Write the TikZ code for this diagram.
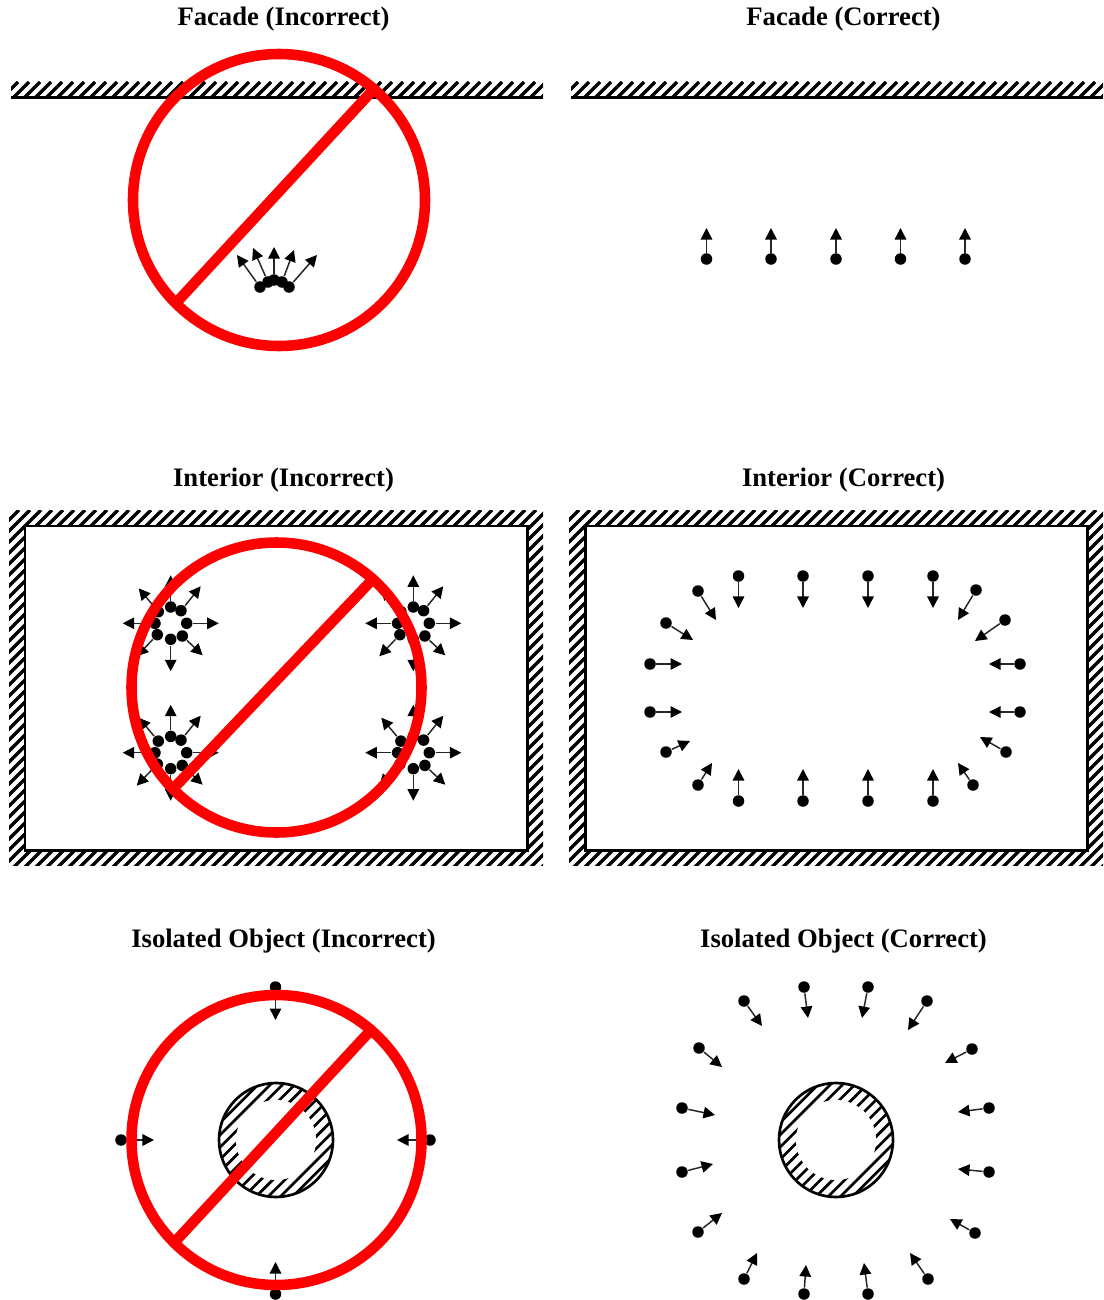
\documentclass[tikz,border=0pt]{standalone}
\usepackage{fontspec}
\setmainfont{Liberation Serif}
\usetikzlibrary{arrows.meta}

\tikzset{
  heading/.style={font=\bfseries\fontsize{7.58}{9}\selectfont,inner sep=0pt},
  hatch/.style={line width=0.92pt,black},
  thinhatch/.style={line width=0.76pt,black},
  wall/.style={line width=0.85pt,black},
  probe/.style={circle,fill=black,inner sep=0pt,minimum size=0.115cm},
  pointer/.style={line width=0.42pt,black!85,-{Triangle[length=0.115cm,width=0.115cm,black]}},
  ban/.style={line width=3pt,red,line cap=butt}
}

\begin{document}
\begin{tikzpicture}[x=0.01cm,y=-0.01cm]
\useasboundingbox (0,0) rectangle (1103,1300);
% ---------- headings ----------
\node[heading] (facwrong) at (283.5,19) {Facade (Incorrect)};
\node[heading] (facright) at (843.5,19) {Facade (Correct)};
\node[heading] (intwrong) at (283.5,480) {Interior (Incorrect)};
\node[heading] (intright) at (843.5,480) {Interior (Correct)};
\node[heading] (isowrong) at (283.5,941) {Isolated Object (Incorrect)};
\node[heading] (isoright) at (843.5,941) {Isolated Object (Correct)};
% ---------- facade walls, interior rooms, isolated objects ----------
\foreach \sx in {0,560} {
\begin{scope}[shift={(\sx,0)}]
% strip along the top
\begin{scope}
  \clip (11,82) rectangle (543,97);
  \foreach \x in {0,11,...,550}
    \draw[hatch] (\x,100) -- (\x+18,82);
\end{scope}
\draw[wall] (11,97.5) -- (543,97.5);
% room with hatched surround
\begin{scope}
  \clip (9,510) rectangle (543,865);
  \foreach \x in {-350,-339,...,550}
    \draw[hatch] (\x,868) -- (\x+358,510);
\end{scope}
\draw[wall,fill=white] (25,526) rectangle (527,850);
% hatched disc
\begin{scope}
  \clip (276,1140) circle (57);
  \foreach \x in {130.6,142.8,...,301.4}
    \draw[thinhatch] (\x,1200) -- (\x+120,1080);
  \fill[white] (276,1140) circle (40);
\end{scope}
\draw[thinhatch] (276,1140) circle (57);
\end{scope}
}
% ---------- facade (incorrect) ----------
\foreach \xa/\ya/\xb/\yb [count=\i] in {260/287/237/255,268/282/253/248,274/280/274/247,282/282/294/250,289/287/317/255} {
  \node[probe] (fa\i) at (\xa,\ya) {};
  \coordinate (fb\i) at (\xb,\yb);
  \draw[pointer] (fa\i) -- (fb\i);
}
\draw[ban] (279,200) circle (146);
\draw[ban] (176,303) -- (373,90);
% ---------- facade (correct) ----------
\foreach \xa [count=\i] in {706.5,771,836,900.5,965} {
  \node[probe] (ga\i) at (\xa,259) {};
  \coordinate (gb\i) at (\xa,228);
  \draw[pointer] (ga\i) -- (gb\i);
}
% ---------- interior (incorrect) ----------
\foreach \cx/\cy [count=\j] in {170.7/623.3,170.7/752.7,413.3/623.3,413.3/752.7} {
  \foreach \dx/\dy/\tx/\ty [count=\i] in {0/-16.3/0/-48,10.3/-12.6/30/-37,16/0/48/0,11.6/12.7/32/32,0/16/0/48,-13.4/11.4/-34/33,-15.7/0/-48/0,-12.4/-11.6/-32/-35} {
    \node[probe] (ha\j\i) at (\cx+\dx,\cy+\dy) {};
    \coordinate (hb\j\i) at (\cx+\tx,\cy+\ty);
    \draw[pointer] (ha\j\i) -- (hb\j\i);
  }
}
\draw[ban] (276.5,687.5) circle (145);
\draw[ban] (172,790) -- (372,580);
% ---------- interior (correct) ----------
\foreach \xa/\ya/\xb/\yb [count=\i] in {738.5/576/738.5/608,803/576/803/608,868/576/868/608,933/576/933/608,698/591/716/620,666/623/693/640,650/664/682/664,650/712/682/712,666/752/690/741,698/785/712/763,738.5/801/738.5/769,803/801/803/769,868/801/868/769,933/801/933/769,973/785/958/763,1006/752/980/737,1020/712/989/712,1020/664/989/664,1005/620/975/641,976/590/958/620} {
  \node[probe] (ka\i) at (\xa,\ya) {};
  \coordinate (kb\i) at (\xb,\yb);
  \draw[pointer] (ka\i) -- (kb\i);
}
% ---------- isolated object (incorrect) ----------
\foreach \xa/\ya/\xb/\yb [count=\i] in {275.5/987/275.5/1020,121/1140/154/1140,430/1140/397/1140,275.5/1294/275.5/1262} {
  \node[probe] (ma\i) at (\xa,\ya) {};
  \coordinate (mb\i) at (\xb,\yb);
  \draw[pointer] (ma\i) -- (mb\i);
}
\draw[ban] (276.5,1140) circle (145);
\draw[ban] (172,1245) -- (371,1030);
% ---------- isolated object (correct) ----------
\foreach \xa/\ya/\xb/\yb [count=\i] in {804/987/808/1018,868/987/862/1018,927/1001/908/1030,972/1049/945/1063,989/1108/958/1112,989/1172/958/1169,975/1233/950/1219,928/1279/910/1253,868/1294/864/1263,804/1294/806/1265,744/1279/757/1253,698/1232/722/1213,682/1172/713/1164,682/1108/715/1115,699/1048/722/1067,744/1001/762/1026} {
  \node[probe] (na\i) at (\xa,\ya) {};
  \coordinate (nb\i) at (\xb,\yb);
  \draw[pointer] (na\i) -- (nb\i);
}
\end{tikzpicture}
\end{document}
